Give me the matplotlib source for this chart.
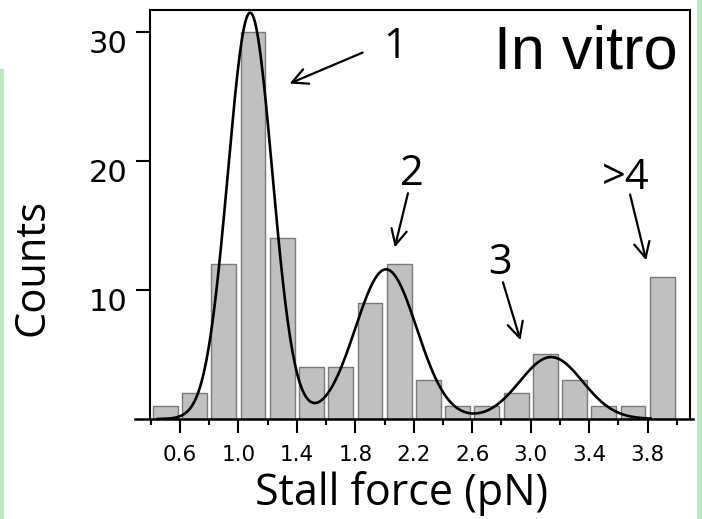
"""
Stall force histogram with multi-peak gaussian fit (in vitro)
"""

import numpy as np
import matplotlib
matplotlib.use("Agg")
import matplotlib.pyplot as plt
from matplotlib.patches import Rectangle
from matplotlib.transforms import ScaledTranslation

# histogram bins (centres, pN) and counts
bin_centers = [0.5, 0.7, 0.9, 1.1, 1.3, 1.5, 1.7, 1.9, 2.1,
               2.3, 2.5, 2.7, 2.9, 3.1, 3.3, 3.5, 3.7, 3.9]
counts = [1, 2, 12, 30, 14, 4, 4, 9, 12, 3, 1, 1, 2, 5, 3, 1, 1, 11]

# gaussian fit
fit_centers = [1.08, 2.01, 3.14]
fit_sigmas = [0.152, 0.21, 0.215]
fit_heights = [31.5, 11.6, 4.8]
fit_range = [0.45, 3.82]

major_ticks = [0.6, 1.0, 1.4, 1.8, 2.2, 2.6, 3.0, 3.4, 3.8]
minor_ticks = [0.4, 0.8, 1.2, 1.6, 2.0, 2.4, 2.8, 3.2, 3.6, 4.0]
y_ticks = [10, 20, 30]

# peak labels: text, text pos, arrow tail, arrow tip
peak_labels = ["1", "2", "3", ">4"]
label_pos = [(2.07, 28.0), (2.19, 18.1), (2.79, 11.2), (3.65, 17.8)]
arrow_tail = [(1.85, 28.4), (2.16, 17.5), (2.81, 10.6), (3.68, 17.4)]
arrow_tip = [(1.35, 26.0), (2.07, 13.3), (2.93, 6.1), (3.79, 12.3)]

fig = plt.figure(figsize=(7.02, 5.19), dpi=100)
ax = fig.add_axes([150 / 702, 1 - 419 / 519, 540 / 702, 409 / 519])

# green strips at the image edges
fig.patches.append(Rectangle((0, 0), 4 / 702, 1 - 69 / 519, transform=fig.transFigure,
                             facecolor="#b9e9c1", edgecolor="none", zorder=0))
fig.patches.append(Rectangle((697 / 702, 0), 5 / 702, 1, transform=fig.transFigure,
                             facecolor="#b9e9c1", edgecolor="none", zorder=0))

ax.bar(bin_centers, counts, width=0.17, color="#c0c0c0", edgecolor="#7a7a7a",
       linewidth=1.0, zorder=2)

x = np.linspace(fit_range[0], fit_range[1], 400)
y = np.zeros_like(x)
for mu, s, h in zip(fit_centers, fit_sigmas, fit_heights):
    y += h * np.exp(-(x - mu) ** 2 / (2 * s ** 2))
ax.plot(x, y, color="black", lw=1.9, zorder=3, clip_on=False)

ax.set_xlim(0.395, 4.09)
ax.set_ylim(0, 31.7)

# baseline sticks out a little past both spines
ax.plot([0.29, 4.11], [0, 0], color="black", lw=1.8, clip_on=False, zorder=4)

for sp in ax.spines.values():
    sp.set_linewidth(1.5)
ax.spines["bottom"].set_visible(False)

ax.set_xticks(major_ticks)
ax.set_xticklabels([f"{t:.1f}" for t in major_ticks])
ax.set_xticks(minor_ticks, minor=True)
ax.set_yticks(y_ticks)
ax.tick_params(axis="x", which="major", length=10, width=1.5, pad=9,
               labelsize=15.5, direction="out")
ax.tick_params(axis="x", which="minor", length=4.5, width=1.5, direction="out")
ax.tick_params(axis="y", which="major", length=10, width=1.5, pad=6,
               labelsize=22, direction="out")
ax.tick_params(axis="y", which="minor", left=False)
for lab in ax.get_yticklabels():
    lab.set_transform(lab.get_transform() + ScaledTranslation(0, -0.10, fig.dpi_scale_trans))

ax.set_xlabel("Stall force (pN)", family="Open Sans", fontsize=31)
ax.xaxis.set_label_coords(0.465, -0.128)
ax.set_ylabel("Counts", family="Open Sans", fontsize=30)
ax.yaxis.set_label_coords(-0.178, 0.37)

for txt, pos, tail, tip in zip(peak_labels, label_pos, arrow_tail, arrow_tip):
    ax.text(pos[0], pos[1], txt, family="Open Sans", fontsize=30,
            ha="center", va="baseline", zorder=5)
    ax.annotate("", xy=tip, xytext=tail,
                arrowprops=dict(arrowstyle="->", lw=1.6, color="black",
                                mutation_scale=28, shrinkA=0, shrinkB=0))

ax.text(0.978, 0.858, "In vitro", transform=ax.transAxes, family="Liberation Sans",
        fontsize=44, ha="right", va="baseline", zorder=5)

plt.savefig("out.png", dpi=100)
